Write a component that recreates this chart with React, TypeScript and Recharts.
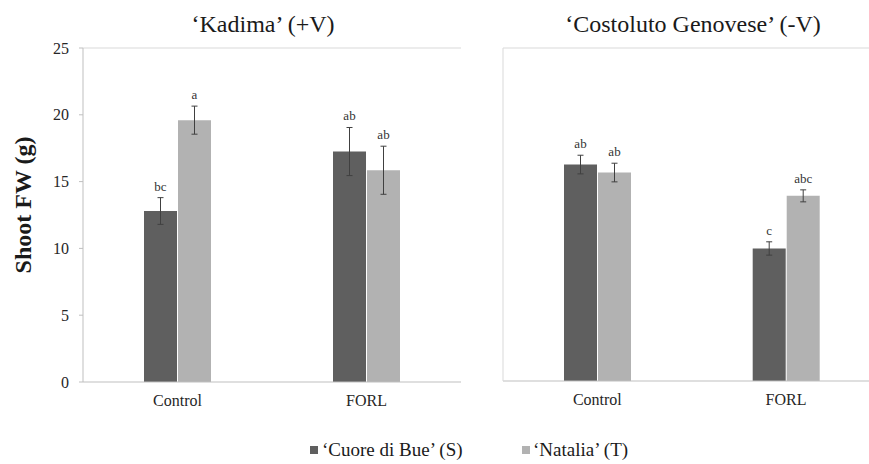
import { BarChart, Bar, XAxis, YAxis, ErrorBar, LabelList, ReferenceLine } from 'recharts';

const FONT = "'Liberation Serif', 'Times New Roman', serif";

const categories = ['Control', 'FORL'];
const yTicks = [0, 5, 10, 15, 20, 25];
const frameTicks = [0, 1, 2];

// 'Kadima' (+V)
const kadimaCuore = [12.8, 17.25];
const kadimaCuoreErr = [1.0, 1.8];
const kadimaCuoreLetters = ['bc', 'ab'];
const kadimaNatalia = [19.6, 15.85];
const kadimaNataliaErr = [1.05, 1.8];
const kadimaNataliaLetters = ['a', 'ab'];

// 'Costoluto Genovese' (-V)
const costolutoCuore = [16.25, 9.95];
const costolutoCuoreErr = [0.7, 0.5];
const costolutoCuoreLetters = ['ab', 'c'];
const costolutoNatalia = [15.65, 13.9];
const costolutoNataliaErr = [0.7, 0.45];
const costolutoNataliaLetters = ['ab', 'abc'];

const DARK = '#5f5f5f';
const LIGHT = '#b2b2b2';
const AXIS = '#bfbfbf';
const FRAME = '#d9d9d9';

// letter sits just above the top of the error bar
function letterLabel(values: number[], errs: number[], letters: string[]) {
  return (props: any) => {
    const vb = props.viewBox ?? props;
    const i = props.index;
    const x = Number(vb.x) + Number(vb.width) / 2;
    const pxPerUnit = Number(vb.height) / values[i];
    const y = Number(vb.y) - errs[i] * pxPerUnit - 7;
    return (
      <text x={x} y={y} textAnchor="middle" fontSize={13} fill="#333" fontFamily={FONT}>
        {letters[i]}
      </text>
    );
  };
}

interface PanelProps {
  cuore: number[]; cuoreErr: number[]; cuoreLetters: string[];
  natalia: number[]; nataliaErr: number[]; nataliaLetters: string[];
  width: number;
  margin: { top: number; right: number; bottom: number; left: number };
  left: boolean;
}

function Panel(p: PanelProps) {
  const rows = categories.map((cat, i) => ({
    cat,
    cuore: p.cuore[i], cuoreErr: p.cuoreErr[i],
    natalia: p.natalia[i], nataliaErr: p.nataliaErr[i],
  }));

  return (
    <BarChart width={p.width} height={464} data={rows} margin={p.margin} barGap={1}>
      {/* tick marks between categories, Excel style */}
      <XAxis
        xAxisId="frame" type="number" domain={[0, 2]} ticks={frameTicks} allowDataOverflow
        height={0} tick={false} axisLine={false}
        tickLine={{ stroke: AXIS }} tickSize={4}
      />
      <XAxis
        dataKey="cat" height={30}
        axisLine={{ stroke: AXIS }} tickLine={false} tickSize={0} tickMargin={13}
        tick={{ fill: '#262626', fontSize: 16, fontFamily: FONT }}
      />
      {p.left ? (
        <YAxis
          domain={[0, 25]} ticks={yTicks} width={60}
          axisLine={{ stroke: AXIS }} tickLine={{ stroke: AXIS }} tickSize={4} tickMargin={10}
          tick={{ fill: '#262626', fontSize: 16, fontFamily: FONT }}
        />
      ) : (
        <YAxis
          domain={[0, 25]} ticks={yTicks} width={60}
          axisLine={{ stroke: FRAME }} tickLine={false} tick={false}
        />
      )}

      <ReferenceLine y={25} stroke={FRAME} />
      {p.left && <ReferenceLine x={2} xAxisId="frame" stroke={FRAME} />}

      <Bar dataKey="cuore" fill={DARK} barSize={33} isAnimationActive={false}>
        <ErrorBar dataKey="cuoreErr" width={3} stroke="#404040" strokeWidth={1} />
        <LabelList dataKey="cuore" content={letterLabel(p.cuore, p.cuoreErr, p.cuoreLetters)} />
      </Bar>
      <Bar dataKey="natalia" fill={LIGHT} barSize={33} isAnimationActive={false}>
        <ErrorBar dataKey="nataliaErr" width={3} stroke="#404040" strokeWidth={1} />
        <LabelList dataKey="natalia" content={letterLabel(p.natalia, p.nataliaErr, p.nataliaLetters)} />
      </Bar>
    </BarChart>
  );
}

const abs = (style: React.CSSProperties): React.CSSProperties => ({ position: 'absolute', ...style });

export default function App() {
  return (
    <div style={abs({ left: 0, top: 0, width: 869, height: 464, overflow: 'hidden', background: '#fff', fontFamily: FONT, color: '#1a1a1a' })}>
      <div style={abs({ left: 0, top: 0 })}>
        <Panel
          cuore={kadimaCuore} cuoreErr={kadimaCuoreErr} cuoreLetters={kadimaCuoreLetters}
          natalia={kadimaNatalia} nataliaErr={kadimaNataliaErr} nataliaLetters={kadimaNataliaLetters}
          width={470} margin={{ top: 48, right: 9, bottom: 52, left: 23 }} left
        />
      </div>
      <div style={abs({ left: 440, top: 0 })}>
        <Panel
          cuore={costolutoCuore} cuoreErr={costolutoCuoreErr} cuoreLetters={costolutoCuoreLetters}
          natalia={costolutoNatalia} nataliaErr={costolutoNataliaErr} nataliaLetters={costolutoNataliaLetters}
          width={445} margin={{ top: 48, right: 4.6, bottom: 53, left: 3 }} left={false}
        />
      </div>

      <div style={abs({ left: 63, top: 12, width: 400, textAlign: 'center', fontSize: 24, lineHeight: '24px' })}>
        ‘Kadima’ (+V)
      </div>
      <div style={abs({ left: 493, top: 12, width: 400, textAlign: 'center', fontSize: 24, lineHeight: '24px' })}>
        ‘Costoluto Genovese’ (-V)
      </div>

      <div style={abs({ left: 23, top: 204.5, transform: 'translate(-50%, -50%) rotate(-90deg)', whiteSpace: 'nowrap', fontSize: 24, fontWeight: 'bold', lineHeight: '24px' })}>
        Shoot FW (g)
      </div>

      {/* legend */}
      <div style={abs({ left: 310, top: 446, width: 8, height: 8, background: DARK })} />
      <div style={abs({ left: 322, top: 440, fontSize: 19, lineHeight: '19px', whiteSpace: 'nowrap' })}>‘Cuore di Bue’ (S)</div>
      <div style={abs({ left: 522, top: 446, width: 8, height: 8, background: LIGHT })} />
      <div style={abs({ left: 533, top: 440, fontSize: 19, lineHeight: '19px', whiteSpace: 'nowrap' })}>‘Natalia’ (T)</div>
    </div>
  );
}
